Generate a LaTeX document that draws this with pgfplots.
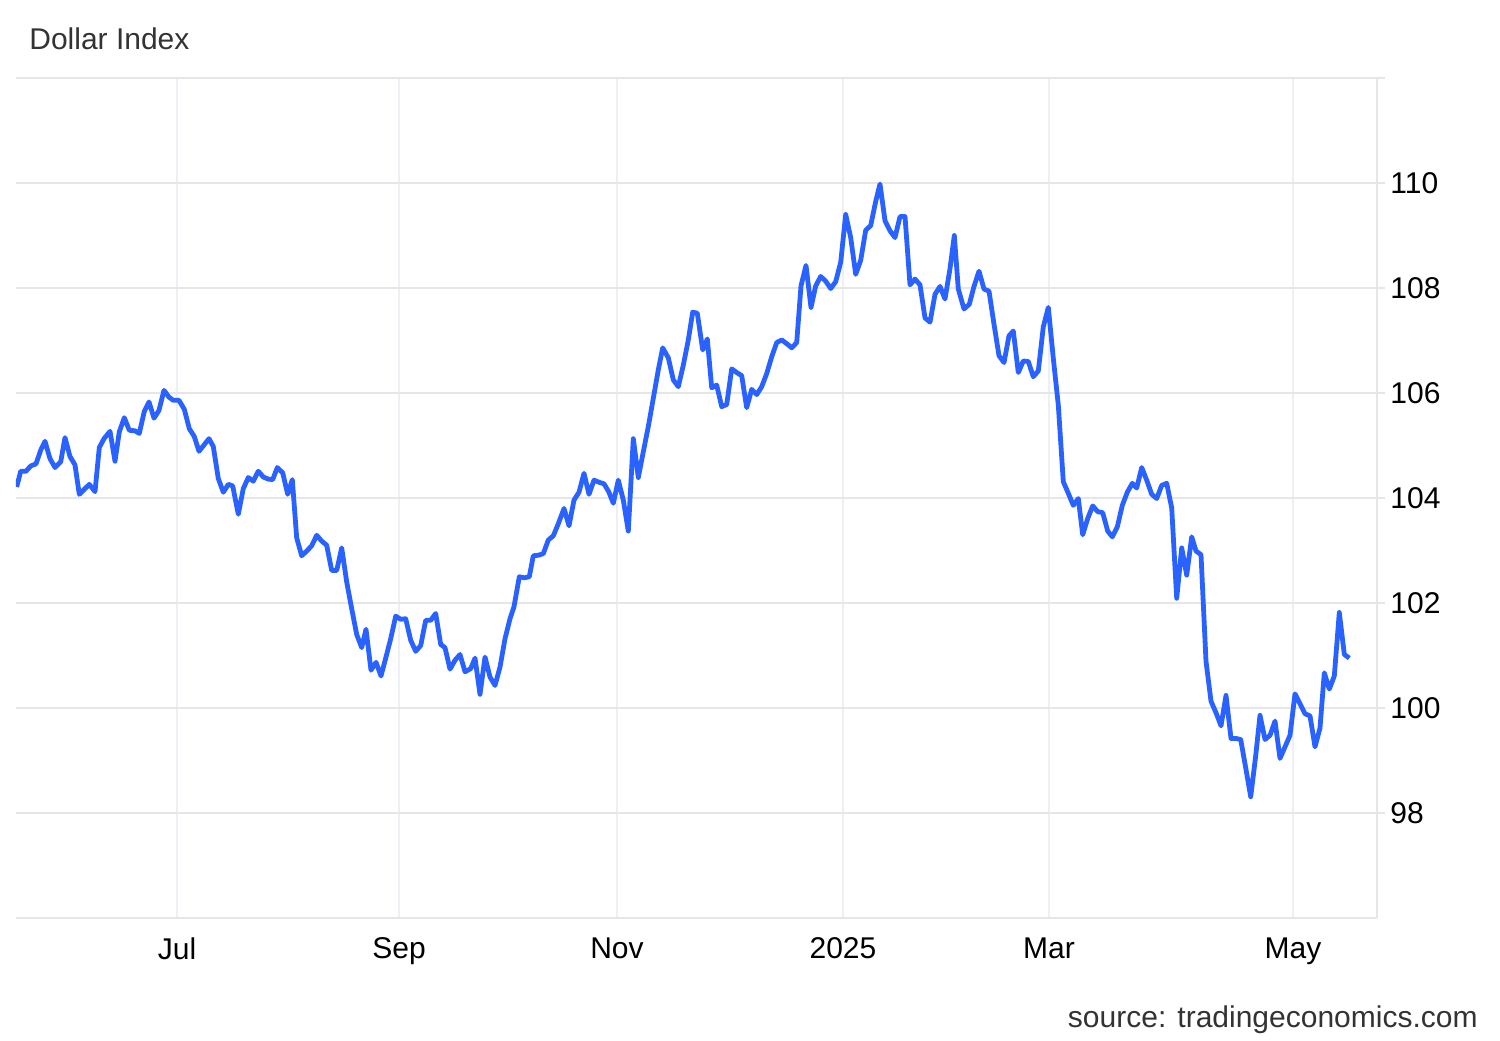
\documentclass[border=0pt]{standalone}
\usepackage{pgfplots}
\pgfplotsset{compat=1.18}
\usepackage{fontspec}
\setmainfont{Liberation Sans}
\definecolor{lineblue}{RGB}{41,98,255}
\definecolor{gridgray}{RGB}{230,230,230}
\definecolor{vgrid}{RGB}{236,240,245}
\definecolor{txtgray}{RGB}{51,51,51}
\begin{document}
\begin{tikzpicture}
\useasboundingbox (0pt,0pt) rectangle (750pt,520pt);
\begin{axis}[
  at={(8pt,61pt)}, anchor=south west,
  width=680.5pt, height=420pt, scale only axis,
  xmin=16, xmax=1377, ymin=96, ymax=112,
  axis x line*=bottom, axis y line*=right,
  axis line style={draw=gridgray, line width=0.8pt},
  xtick={177,399,617,843,1049,1293},
  xticklabels={Jul,Sep,Nov,2025,Mar,May},
  ytick={98,100,...,110},
  extra y ticks={112}, extra y tick labels={},
  extra y tick style={grid=major},
  grid=major,
  x grid style={draw=vgrid, line width=0.8pt},
  y grid style={draw=gridgray, line width=0.8pt},
  tick align=outside,
  xtick style={draw=none},
  ytick style={draw=gridgray, line width=0.8pt},
  major tick length=4pt,
  /pgf/number format/assume math mode=true,
  /pgf/number format/1000 sep={},
  tick label style={font=\fontsize{15}{18}\selectfont, text=black},
  xticklabel style={anchor=north, inner sep=0pt, yshift=-5.5pt},
  yticklabel style={anchor=west, inner sep=0pt, xshift=2.5pt},
]
\addplot[lineblue, line width=2.4pt, line join=round] table[row sep=\\] {
x y\\
16.7 104.21\\ 20.7 104.51\\ 26 104.51\\ 30.7 104.61\\ 36 104.65\\ 40.7 104.91\\
45 105.08\\ 50 104.75\\ 55 104.58\\ 60.7 104.69\\ 65 105.15\\ 70 104.79\\
75 104.63\\ 79.3 104.07\\ 89.3 104.26\\ 95 104.12\\ 99.3 104.96\\ 104 105.13\\
110 105.27\\ 115 104.70\\ 119.3 105.26\\ 124.3 105.53\\ 129.3 105.29\\ 135 105.28\\
139.3 105.23\\ 144.3 105.65\\ 149 105.83\\ 154 105.52\\ 159 105.67\\ 164 106.05\\
169 105.92\\ 173.3 105.86\\ 179 105.86\\ 184.3 105.69\\ 189.3 105.32\\ 194.3 105.17\\
199 104.89\\ 204 105.01\\ 209 105.13\\ 213.3 104.98\\ 218.3 104.37\\ 223.3 104.11\\
228.3 104.26\\ 232.7 104.23\\ 238.3 103.69\\ 243.3 104.18\\ 248.3 104.39\\ 253.3 104.32\\
258.3 104.51\\ 263.3 104.40\\ 268.3 104.36\\ 272.7 104.35\\ 277.3 104.58\\ 282.7 104.48\\
287.7 104.07\\ 292.3 104.35\\ 296.7 103.24\\ 301.7 102.90\\ 306.7 102.99\\ 311.7 103.09\\
316.7 103.29\\ 321.7 103.18\\ 326.7 103.10\\ 331.7 102.62\\ 336.7 102.62\\ 341.7 103.05\\
346.7 102.40\\ 351.7 101.89\\ 356.7 101.40\\ 361.7 101.15\\ 366 101.50\\ 371 100.72\\
376 100.87\\ 381 100.61\\ 386 100.97\\ 390.7 101.32\\ 395.7 101.75\\ 400.7 101.69\\
405.7 101.70\\ 410.7 101.29\\ 415.7 101.08\\ 420.7 101.19\\ 425.7 101.67\\ 430.7 101.67\\
435.7 101.80\\ 440.7 101.21\\ 445 101.15\\ 450 100.74\\ 455 100.91\\ 460 101.02\\
465 100.69\\ 470.7 100.75\\ 475 100.95\\ 480 100.26\\ 485 100.97\\ 490 100.59\\
495 100.43\\ 500 100.78\\ 505 101.32\\ 510 101.70\\ 514 101.93\\ 519.3 102.50\\
524.3 102.48\\ 529.3 102.50\\ 533.3 102.90\\ 538.3 102.91\\ 543.3 102.94\\ 548.3 103.20\\
553.3 103.28\\ 558.3 103.51\\ 564 103.80\\ 569 103.47\\ 574 103.96\\ 579 104.11\\
584 104.47\\ 589 104.07\\ 594 104.34\\ 599 104.30\\ 604 104.27\\ 608.7 104.12\\
613.3 103.90\\ 618.3 104.34\\ 623.3 103.96\\ 628.3 103.37\\ 633.3 105.13\\ 638.3 104.39\\
643.3 104.88\\ 648.3 105.36\\ 653.3 105.90\\ 658.3 106.44\\ 662.7 106.86\\ 668.3 106.67\\
673.3 106.25\\ 678.3 106.12\\ 683.3 106.53\\ 688.3 107.01\\ 692.7 107.54\\ 697.3 107.52\\
702.7 106.82\\ 707.3 107.03\\ 711.7 106.10\\ 716.7 106.15\\ 721.7 105.74\\ 726.7 105.78\\
731.7 106.46\\ 736.7 106.39\\ 741.7 106.33\\ 746.7 105.72\\ 751.7 106.07\\ 756.7 105.97\\
761.7 106.12\\ 766.7 106.37\\ 771.7 106.69\\ 776.7 106.96\\ 781.7 107.01\\ 786.7 106.94\\
791.7 106.86\\ 796.7 106.96\\ 801 108.04\\ 806 108.43\\ 811 107.63\\ 815.7 108.04\\
820.7 108.22\\ 825.7 108.13\\ 830.7 107.99\\ 835.7 108.12\\ 840.7 108.49\\ 845.7 109.40\\
850.7 108.96\\ 855.7 108.26\\ 860.7 108.53\\ 865.7 109.10\\ 870.7 109.19\\ 875.7 109.65\\
880 109.98\\ 885 109.28\\ 890 109.09\\ 895 108.96\\ 900 109.36\\ 905 109.36\\
910 108.06\\ 915 108.17\\ 920 108.06\\ 925 107.43\\ 930 107.35\\ 935 107.88\\
940 108.03\\ 945 107.79\\ 950 108.37\\ 954.3 109.00\\ 958.3 107.98\\ 964 107.60\\
969.3 107.69\\ 974 108.03\\ 979 108.32\\ 984 107.98\\ 989 107.94\\ 994 107.31\\
999 106.71\\ 1004 106.58\\ 1009 107.09\\ 1013.3 107.18\\ 1018.3 106.39\\ 1023.3 106.61\\
1028.3 106.60\\ 1033.3 106.31\\ 1038.3 106.42\\ 1043.3 107.26\\ 1048.3 107.63\\ 1053.3 106.66\\
1058.3 105.77\\ 1063.3 104.31\\ 1068.3 104.09\\ 1073.3 103.86\\ 1078.3 103.99\\ 1082.7 103.30\\
1087.7 103.61\\ 1092.7 103.85\\ 1097.7 103.74\\ 1102.7 103.72\\ 1107.7 103.37\\ 1112.3 103.26\\
1117.3 103.45\\ 1122.3 103.86\\ 1127.3 104.11\\ 1132.3 104.28\\ 1136.7 104.19\\ 1141.7 104.58\\
1146.7 104.34\\ 1151.7 104.07\\ 1156.7 103.99\\ 1161.7 104.24\\ 1166.7 104.28\\ 1171.7 103.81\\
1176.7 102.09\\ 1181.7 103.05\\ 1186.7 102.53\\ 1191.7 103.26\\ 1196 102.99\\ 1201 102.92\\
1206 100.89\\ 1211 100.13\\ 1216 99.91\\ 1221 99.66\\ 1226 100.24\\ 1231 99.42\\
1236 99.42\\ 1240.7 99.40\\ 1245.7 98.86\\ 1250.7 98.31\\ 1255.7 99.09\\ 1260 99.86\\
1265 99.40\\ 1270 99.48\\ 1275 99.75\\ 1280 99.04\\ 1285 99.26\\ 1290 99.48\\
1295 100.27\\ 1300 100.08\\ 1305 99.89\\ 1310 99.85\\ 1315 99.26\\ 1320 99.62\\
1324.3 100.67\\ 1329.3 100.36\\ 1334.3 100.61\\ 1339.3 101.82\\ 1344.3 101.02\\ 1349.3 100.95\\
};
\end{axis}
\node[anchor=base west, inner sep=0pt, text=txtgray, font=\fontsize{15}{18}\selectfont] at (14.5pt,495pt) {Dollar Index};
\node[anchor=base east, inner sep=0pt, text=txtgray, font=\fontsize{15}{18}\selectfont] at (739pt,6.5pt) {source: tradingeconomics.com};
\end{tikzpicture}
\end{document}
